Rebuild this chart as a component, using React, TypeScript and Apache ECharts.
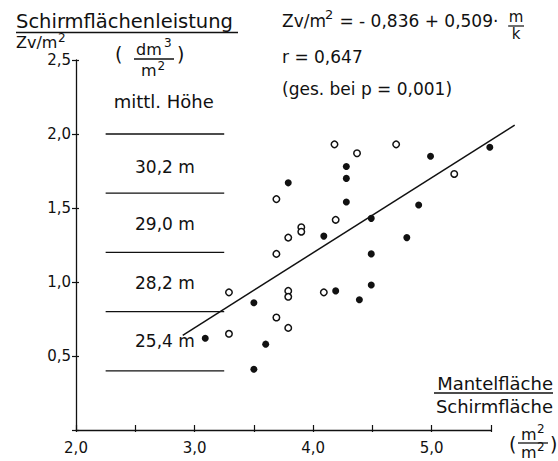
import React, { useEffect, useRef } from 'react';
import * as echarts from 'echarts';

// Data
const filledX = [3.09, 3.50, 3.50, 3.60, 3.79, 4.09, 4.19, 4.28, 4.28, 4.28, 4.39, 4.49, 4.49, 4.49, 4.79, 4.89, 4.99, 5.49];
const filledY = [0.62, 0.41, 0.86, 0.58, 1.67, 1.31, 0.94, 1.78, 1.70, 1.54, 0.88, 0.98, 1.19, 1.43, 1.30, 1.52, 1.85, 1.91];
const openX = [3.29, 3.29, 3.69, 3.69, 3.69, 3.79, 3.79, 3.79, 3.79, 3.90, 3.90, 4.09, 4.18, 4.19, 4.37, 4.70, 5.19];
const openY = [0.93, 0.65, 0.76, 1.19, 1.56, 0.94, 0.90, 0.69, 1.30, 1.37, 1.34, 0.93, 1.93, 1.42, 1.87, 1.93, 1.73];
const regX = [2.9, 5.7];
const regY = [0.64, 2.06];
const levelY = [2.0, 1.6, 1.2, 0.8, 0.4];
const levelXRange = [2.25, 3.25];
const heightLabels = ['mittl. Höhe', '30,2 m', '29,0 m', '28,2 m', '25,4 m'];
const heightLabelY = [2.22, 1.78, 1.39, 0.99, 0.6];
const heightLabelX = [2.74, 2.75, 2.75, 2.75, 2.75];
const xMin = 2.0, xMax = 5.5, xStep = 0.5;
const yMin = 0, yMax = 2.5, yStep = 0.5;

const FONT = "'DejaVu Sans', sans-serif";
const INK = '#111111';

function txt(x: number, y: number, text: string, fontSize: number, align = 'left', va = 'middle') {
  return {
    type: 'text', x, y, silent: true,
    style: { text, fontSize, fontFamily: FONT, fill: INK, align, verticalAlign: va },
  };
}
function ln(x1: number, y1: number, x2: number, y2: number, w = 1.2) {
  return { type: 'line', silent: true, shape: { x1, y1, x2, y2 }, style: { stroke: INK, lineWidth: w } };
}

const fmt = (v: number) => v.toFixed(1).replace('.', ',');

export default function App() {
  const ref = useRef<HTMLDivElement>(null);
  useEffect(() => {
    if (!ref.current) return;
    const chart = echarts.init(ref.current, null, { renderer: 'svg' });
    const levelSeries = levelY.map((y) => ({
      type: 'line',
      data: [[levelXRange[0], y], [levelXRange[1], y]],
      symbol: 'none',
      silent: true,
      lineStyle: { color: INK, width: 1.3 },
    }));
    const option: any = {
      animation: false,
      backgroundColor: '#fff',
      grid: { left: 76, right: 67, top: 60, bottom: 31, containLabel: false, outerBoundsMode: 'none' },
      xAxis: [
        {
          type: 'value', min: xMin, max: xMax, interval: xStep,
          axisLine: { show: true, lineStyle: { color: INK, width: 1.3 } },
          axisTick: { show: true, inside: true, length: 5, lineStyle: { color: INK, width: 1.2 } },
          axisLabel: {
            show: true, margin: 10, color: INK, fontSize: 15, fontFamily: FONT,
            formatter: (v: number) => (Math.abs(v - Math.round(v)) < 1e-6 ? fmt(v) : ''),
          },
          splitLine: { show: false },
        },
        {
          type: 'value', min: xMin, max: xMax, interval: xStep, position: 'bottom',
          axisLine: { show: false },
          axisTick: { show: true, inside: false, length: 2, lineStyle: { color: INK, width: 1.2 } },
          axisLabel: { show: false },
          splitLine: { show: false },
        },
      ],
      yAxis: [
        {
          type: 'value', min: yMin, max: yMax, interval: yStep,
          axisLine: { show: true, lineStyle: { color: INK, width: 1.3 } },
          axisTick: { show: true, inside: false, length: 4, lineStyle: { color: INK, width: 1.2 } },
          axisLabel: {
            show: true, margin: 5, color: INK, fontSize: 15, fontFamily: FONT,
            formatter: (v: number) => (v === 0 ? '' : fmt(v)),
          },
          splitLine: { show: false },
        },
        {
          type: 'value', min: yMin, max: yMax, interval: yStep, position: 'left',
          axisLine: { show: false },
          axisTick: { show: true, inside: true, length: 3, lineStyle: { color: INK, width: 1.2 } },
          axisLabel: { show: false },
          splitLine: { show: false },
        },
      ],
      series: [
        ...levelSeries,
        {
          type: 'scatter',
          data: filledX.map((x, i) => [x, filledY[i]]),
          symbol: 'circle',
          symbolSize: 7,
          silent: true,
          itemStyle: { color: INK, opacity: 1 },
        },
        {
          type: 'scatter',
          data: openX.map((x, i) => [x, openY[i]]),
          symbol: 'circle',
          symbolSize: 6.5,
          silent: true,
          itemStyle: { color: '#fff', borderColor: INK, borderWidth: 1.5, opacity: 1 },
        },
      ],
    };
    chart.setOption(option);

    const px = (x: number, y: number) => chart.convertToPixel({ gridIndex: 0 }, [x, y]) as number[];
    const r0 = px(regX[0], regY[0]);
    const r1 = px(regX[1], regY[1]);
    const labelGraphics = heightLabels.map((t, i) => {
      const p = px(heightLabelX[i], heightLabelY[i]);
      return txt(p[0], p[1], t, i === 0 ? 18 : 17, 'center');
    });

    const graphic: any[] = [
      // regression line (through the chart's scales, allowed to run past the axis end)
      ln(r0[0], r0[1], r1[0], r1[1], 1.5),
      ...labelGraphics,
      // y-axis title
      txt(16, 21, 'Schirmflächenleistung', 19.5),
      ln(16, 32.5, 238, 32.5, 1.3),
      txt(16, 42, 'Zv/m', 16),
      txt(58, 38, '2', 12),
      // (dm3 / m2)
      txt(115, 54, '(', 19),
      txt(136, 49, 'dm', 16),
      txt(164, 43, '3', 12),
      ln(134, 59, 174, 59, 1.3),
      txt(141, 70, 'm', 16),
      txt(157.5, 66, '2', 12),
      txt(177, 54, ')', 19),
      // regression formula
      txt(282, 21, 'Zv/m', 17),
      txt(325, 14, '2', 13),
      txt(334, 21, ' = - 0,836 + 0,509·', 17),
      txt(516, 17, 'm', 15, 'center'),
      ln(508, 26, 524, 26, 1.2),
      txt(516, 34, 'k', 15, 'center'),
      txt(282, 57, 'r = 0,647', 17),
      txt(282, 89, '(ges. bei p = 0,001)', 17),
      // x-axis title
      txt(553, 383, 'Mantelfläche', 18, 'right'),
      ln(434, 393, 553, 393, 1.3),
      txt(553, 406, 'Schirmfläche', 18, 'right'),
      txt(509, 444, '(', 19),
      txt(521, 434, 'm', 16),
      txt(537, 429, '2', 12),
      ln(518, 443, 548, 443, 1.3),
      txt(521, 452, 'm', 16),
      txt(537, 447, '2', 12),
      txt(550, 444, ')', 19),
    ];
    chart.setOption({ graphic });
    return () => chart.dispose();
  }, []);
  return (
    <div
      ref={ref}
      style={{ position: 'fixed', left: 0, top: 0, width: 558, height: 461, background: '#fff' }}
    />
  );
}
